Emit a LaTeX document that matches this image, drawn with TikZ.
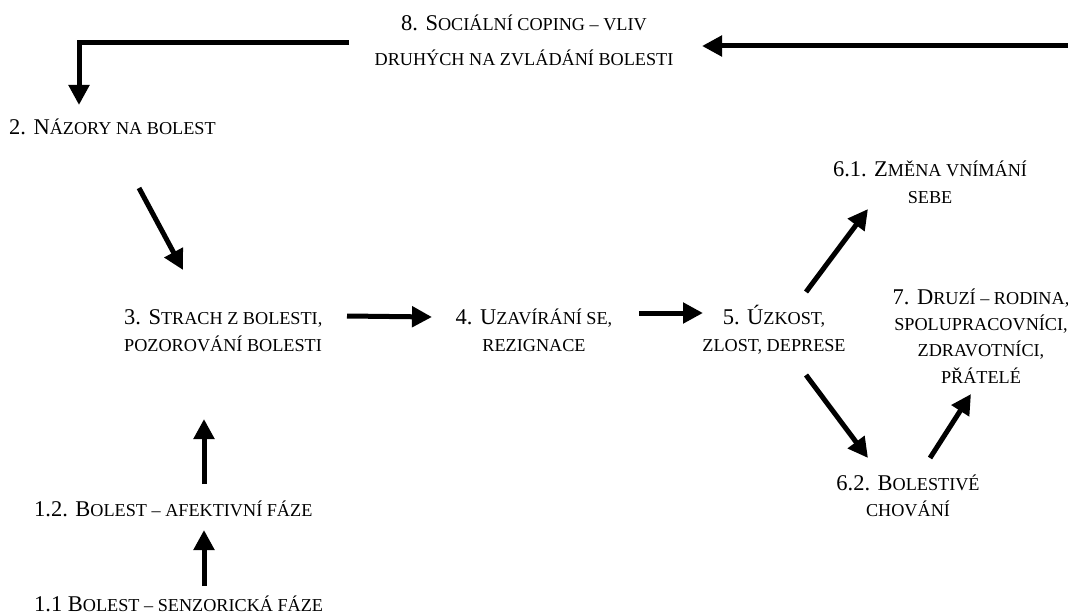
\documentclass[tikz,border=0pt]{standalone}
\usepackage{fontspec}
\setmainfont{Liberation Serif}
\usetikzlibrary{arrows.meta}

% small capitals faked with reduced upper case
\newcommand\sm[1]{{\fontsize{18.2}{20}\selectfont #1}}
% stacked lines, baseline on the first line
\newcommand\stk[2]{\begin{tabular}[t]{@{}#1@{}}#2\end{tabular}}

\begin{document}
\begin{tikzpicture}[x=1pt,y=-1pt,
  txt/.style={inner sep=0pt, font=\fontsize{22.5}{27}\selectfont},
  flow/.style={line width=5pt, -{Triangle[length=20pt,width=20pt]}}]
\useasboundingbox (0,0) rectangle (1068,615);

% ---- texts ----
\node[txt, anchor=base] (t8) at (524,31)
  {\fontsize{22.5}{35}\selectfont\stk{c}{8. S\sm{OCIÁLNÍ COPING – VLIV}\\ \sm{DRUHÝCH NA ZVLÁDÁNÍ BOLESTI}}};
\node[txt, anchor=base west] (t2) at (9,135) {2. N\sm{ÁZORY NA BOLEST}};
\node[txt, anchor=base west] (t3) at (124,324)
  {\stk{l}{3. S\sm{TRACH Z BOLESTI,}\\ \sm{POZOROVÁNÍ BOLESTI}}};
\node[txt, anchor=base] (t4) at (534,324)
  {\stk{c}{4. U\sm{ZAVÍRÁNÍ SE,}\\ \sm{REZIGNACE}}};
\node[txt, anchor=base] (t5) at (774,324)
  {\stk{c}{5. Ú\sm{ZKOST,}\\ \sm{ZLOST, DEPRESE}}};
\node[txt, anchor=base] (t61) at (930,176)
  {\stk{c}{6.1. Z\sm{MĚNA VNÍMÁNÍ}\\ \sm{SEBE}}};
\node[txt, anchor=base] (t7) at (981,304)
  {\fontsize{22.5}{26.4}\selectfont\stk{c}{7. D\sm{RUZÍ – RODINA,}\\ \sm{SPOLUPRACOVNÍCI,}\\ \sm{ZDRAVOTNÍCI,}\\ \sm{PŘÁTELÉ}}};
\node[txt, anchor=base] (t62) at (908,490)
  {\fontsize{22.5}{26}\selectfont\stk{c}{6.2. B\sm{OLESTIVÉ}\\ \sm{CHOVÁNÍ}}};
\node[txt, anchor=base west] (t12) at (34,516) {1.2. B\sm{OLEST – AFEKTIVNÍ FÁZE}};
\node[txt, anchor=base west] (t11) at (34,611) {1.1 B\sm{OLEST – SENZORICKÁ FÁZE}};

% ---- arrow end points ----
\coordinate (r8s) at (1068,46);
\coordinate (r8e) at (702,46);
\coordinate (l8s) at (349,43);
\coordinate (l8c) at (79,43);
\coordinate (l8e) at (79,105);
\coordinate (a23s) at (139,188);
\coordinate (a23e) at (183,270);
\coordinate (a34s) at (347,316);
\coordinate (a34e) at (432,317);
\coordinate (a45s) at (639,313);
\coordinate (a45e) at (703,313);
\coordinate (a561s) at (806,292);
\coordinate (a561e) at (868,209);
\coordinate (a562s) at (806,375);
\coordinate (a562e) at (868,458);
\coordinate (a627s) at (930,458);
\coordinate (a627e) at (971,394);
\coordinate (a123s) at (204,484);
\coordinate (a123e) at (204,419);
\coordinate (a1112s) at (204,586);
\coordinate (a1112e) at (204,530);

% ---- connectors ----
\draw[flow] (r8s) -- (r8e);
\draw[flow] (l8s) -- (l8c) -- (l8e);
\draw[flow] (a23s) -- (a23e);
\draw[flow] (a34s) -- (a34e);
\draw[flow] (a45s) -- (a45e);
\draw[flow] (a561s) -- (a561e);
\draw[flow] (a562s) -- (a562e);
\draw[flow] (a627s) -- (a627e);
\draw[flow] (a123s) -- (a123e);
\draw[flow] (a1112s) -- (a1112e);
\end{tikzpicture}
\end{document}
